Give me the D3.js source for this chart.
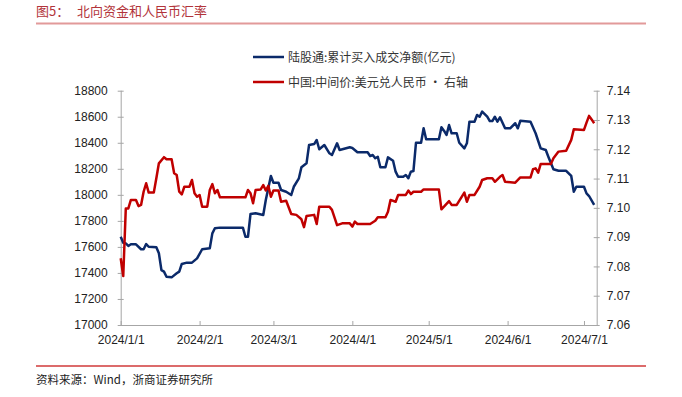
<!DOCTYPE html>
<html>
<head>
<meta charset="utf-8">
<script src="https://cdn.jsdelivr.net/npm/d3@7"></script>
<style>
    body { margin: 0; background: #fff; }
    .axis text { font-family: "Liberation Sans", Arial, sans-serif; font-size: 12px; fill: #222; }
    .legend { font-family: "Noto Sans CJK SC", sans-serif; font-size: 12px; fill: #333; }
</style>
</head>
<body>
<div id="visualisation"></div>
<script>
// 陆股通:累计买入成交净额(亿元), left axis
var northDates = ["2024-01-01", "2024-01-02", "2024-01-03", "2024-01-04", "2024-01-05", "2024-01-07", "2024-01-09", "2024-01-10",
    "2024-01-11", "2024-01-12", "2024-01-15", "2024-01-16", "2024-01-17", "2024-01-18", "2024-01-19", "2024-01-21",
    "2024-01-23", "2024-01-24", "2024-01-25", "2024-01-27", "2024-01-29", "2024-01-31", "2024-02-02", "2024-02-05",
    "2024-02-06", "2024-02-07", "2024-02-09", "2024-02-18", "2024-02-19", "2024-02-20", "2024-02-21", "2024-02-23",
    "2024-02-26", "2024-02-27", "2024-02-29", "2024-03-01", "2024-03-03", "2024-03-04", "2024-03-06", "2024-03-08",
    "2024-03-09", "2024-03-11", "2024-03-12", "2024-03-14", "2024-03-15", "2024-03-17", "2024-03-18", "2024-03-19",
    "2024-03-21", "2024-03-23", "2024-03-24", "2024-03-26", "2024-03-27", "2024-03-31", "2024-04-01", "2024-04-03",
    "2024-04-07", "2024-04-08", "2024-04-09", "2024-04-10", "2024-04-11", "2024-04-12", "2024-04-14", "2024-04-15",
    "2024-04-17", "2024-04-18", "2024-04-19", "2024-04-21", "2024-04-22", "2024-04-23", "2024-04-24", "2024-04-25",
    "2024-04-26", "2024-04-28", "2024-04-29", "2024-04-30", "2024-05-05", "2024-05-06", "2024-05-07", "2024-05-08",
    "2024-05-09", "2024-05-10", "2024-05-12", "2024-05-13", "2024-05-15", "2024-05-16", "2024-05-17", "2024-05-19",
    "2024-05-20", "2024-05-21", "2024-05-22", "2024-05-24", "2024-05-25", "2024-05-26", "2024-05-27", "2024-05-28",
    "2024-05-29", "2024-05-31", "2024-06-02", "2024-06-04", "2024-06-05", "2024-06-06", "2024-06-10", "2024-06-12",
    "2024-06-14", "2024-06-16", "2024-06-17", "2024-06-19", "2024-06-21", "2024-06-24", "2024-06-26", "2024-06-27",
    "2024-06-28", "2024-07-01", "2024-07-02", "2024-07-03", "2024-07-05"];
var northValues = [17678, 17632, 17627, 17607, 17620, 17620, 17582, 17582,
    17622, 17601, 17597, 17551, 17422, 17410, 17371, 17366,
    17397, 17410, 17469, 17479, 17479, 17512, 17582, 17589,
    17704, 17743, 17748, 17748, 17678, 17678, 17853, 17858,
    17845, 17960, 18145, 18093, 18093, 18037, 18024, 17999,
    18062, 18127, 18212, 18242, 18383, 18390, 18421, 18350,
    18383, 18319, 18306, 18396, 18344, 18365, 18360, 18327,
    18327, 18298, 18306, 18281, 18293, 18212, 18212, 18288,
    18262, 18178, 18139, 18139, 18152, 18127, 18178, 18183,
    18400, 18400, 18511, 18427, 18427, 18519, 18493, 18460,
    18536, 18473, 18473, 18400, 18357, 18396, 18562, 18562,
    18613, 18600, 18639, 18600, 18567, 18567, 18600, 18562,
    18596, 18511, 18511, 18550, 18511, 18569, 18562, 18473,
    18357, 18344, 18293, 18196, 18185, 18185, 18145, 18024,
    18062, 18062, 18011, 17991, 17922];

// 中国:中间价:美元兑人民币, right axis
var fxDates = ["2024-01-01", "2024-01-02", "2024-01-03", "2024-01-04", "2024-01-05", "2024-01-07", "2024-01-08", "2024-01-09",
    "2024-01-10", "2024-01-11", "2024-01-12", "2024-01-14", "2024-01-15", "2024-01-16", "2024-01-18", "2024-01-19",
    "2024-01-21", "2024-01-22", "2024-01-23", "2024-01-24", "2024-01-25", "2024-01-26", "2024-01-28", "2024-01-29",
    "2024-01-30", "2024-01-31", "2024-02-01", "2024-02-02", "2024-02-04", "2024-02-05", "2024-02-06", "2024-02-07",
    "2024-02-08", "2024-02-09", "2024-02-19", "2024-02-20", "2024-02-21", "2024-02-22", "2024-02-23", "2024-02-25",
    "2024-02-26", "2024-02-27", "2024-02-28", "2024-02-29", "2024-03-01", "2024-03-03", "2024-03-04", "2024-03-06",
    "2024-03-08", "2024-03-10", "2024-03-12", "2024-03-13", "2024-03-14", "2024-03-17", "2024-03-18", "2024-03-19",
    "2024-03-23", "2024-03-24", "2024-03-26", "2024-03-28", "2024-03-31", "2024-04-01", "2024-04-02", "2024-04-03",
    "2024-04-08", "2024-04-10", "2024-04-11", "2024-04-14", "2024-04-15", "2024-04-16", "2024-04-18", "2024-04-19",
    "2024-04-22", "2024-04-23", "2024-04-24", "2024-04-25", "2024-04-28", "2024-04-29", "2024-05-05", "2024-05-06",
    "2024-05-07", "2024-05-09", "2024-05-10", "2024-05-12", "2024-05-15", "2024-05-16", "2024-05-17", "2024-05-19",
    "2024-05-21", "2024-05-22", "2024-05-24", "2024-05-26", "2024-05-27", "2024-05-29", "2024-05-30", "2024-05-31",
    "2024-06-04", "2024-06-06", "2024-06-10", "2024-06-11", "2024-06-12", "2024-06-13", "2024-06-14", "2024-06-18",
    "2024-06-19", "2024-06-21", "2024-06-24", "2024-06-26", "2024-06-27", "2024-07-01", "2024-07-02", "2024-07-03",
    "2024-07-04", "2024-07-05"];
var fxValues = [7.0828, 7.0767, 7.0998, 7.0998, 7.1027, 7.1027, 7.1006, 7.1010,
    7.1055, 7.1084, 7.1052, 7.1052, 7.1101, 7.1152, 7.1173, 7.1166,
    7.1166, 7.1118, 7.1112, 7.1055, 7.1046, 7.1072, 7.1072, 7.1095,
    7.1050, 7.1038, 7.1044, 7.1004, 7.1004, 7.1061, 7.1081, 7.1050,
    7.1061, 7.1036, 7.1036, 7.1061, 7.1050, 7.1016, 7.1061, 7.1063,
    7.1078, 7.1059, 7.1075, 7.1038, 7.1059, 7.1059, 7.1021, 7.1024,
    7.0979, 7.0976, 7.0961, 7.0934, 7.0972, 7.0976, 7.0945, 7.1004,
    7.1004, 7.0993, 7.0941, 7.0947, 7.0947, 7.0936, 7.0953, 7.0945,
    7.0945, 7.0956, 7.0968, 7.0968, 7.0987, 7.1027, 7.1021, 7.1044,
    7.1044, 7.1059, 7.1047, 7.1055, 7.1055, 7.1063, 7.1063, 7.0995,
    7.1004, 7.1023, 7.1010, 7.1010, 7.1052, 7.1021, 7.1044, 7.1044,
    7.1072, 7.1095, 7.1101, 7.1101, 7.1089, 7.1106, 7.1112, 7.1089,
    7.1086, 7.1104, 7.1104, 7.1132, 7.1135, 7.1120, 7.1150, 7.1150,
    7.1169, 7.1192, 7.1195, 7.1232, 7.1268, 7.1266, 7.1291, 7.1314,
    7.1302, 7.1289];

var leftTicks = [17000, 17200, 17400, 17600, 17800, 18000, 18200, 18400, 18600, 18800];
var rightTicks = [7.06, 7.07, 7.08, 7.09, 7.10, 7.11, 7.12, 7.13, 7.14];
var monthTicks = ["2024-01-01", "2024-02-01", "2024-03-01", "2024-04-01", "2024-05-01", "2024-06-01", "2024-07-01"];

var width = 682;
var height = 397;
var plotLeft = 120.7, plotRight = 596.7, plotTop = 90.7, plotBottom = 325;

var parse = d3.timeParse("%Y-%m-%d");
var fmt = d3.timeFormat("%Y/%-m/%-d");

var north = northDates.map(function (d, i) { return { date: parse(d), v: northValues[i] }; });
var fx = fxDates.map(function (d, i) { return { date: parse(d), v: fxValues[i] }; });

var xScale = d3.scaleTime()
    .domain([parse("2024-01-01"), parse("2024-07-06")])
    .range([plotLeft, plotRight]);

var yLeft = d3.scaleLinear()
    .domain([17000, 18800])
    .range([plotBottom, plotTop]);

var yRight = d3.scaleLinear()
    .domain([7.06, 7.14])
    .range([plotBottom, plotTop]);

var svg = d3.select("#visualisation")
    .append("svg")
        .attr("width", width)
        .attr("height", height);

// title
svg.append("text")
    .attr("x", 36)
    .attr("y", 16)
    .style("font-family", "\"Noto Sans CJK SC\", sans-serif")
    .style("font-size", "13px")
    .style("fill", "#b2343a")
    .text("图5：");

svg.append("text")
    .attr("x", 77)
    .attr("y", 16)
    .style("font-family", "\"Noto Sans CJK SC\", sans-serif")
    .style("font-size", "13px")
    .style("fill", "#b2343a")
    .text("北向资金和人民币汇率");

svg.append("line")
    .attr("x1", 36).attr("x2", 646)
    .attr("y1", 23.5).attr("y2", 23.5)
    .attr("stroke", "#e29a9a")
    .attr("stroke-width", 2);

svg.append("line")
    .attr("x1", 36).attr("x2", 646)
    .attr("y1", 366).attr("y2", 366)
    .attr("stroke", "#d03a3a")
    .attr("stroke-width", 1.5);

svg.append("text")
    .attr("x", 36)
    .attr("y", 384)
    .style("font-family", "\"Noto Sans CJK SC\", sans-serif")
    .style("font-size", "11.5px")
    .style("fill", "#222")
    .text("资料来源：Wind，浙商证券研究所");

// axes
var xAxis = d3.axisBottom(xScale)
    .tickValues(monthTicks.map(parse))
    .tickSize(-4)
    .tickFormat(fmt);

var gx = svg.append("g")
    .attr("class", "x axis")
    .attr("transform", "translate(0," + plotBottom + ")")
    .call(xAxis);
gx.selectAll("text").attr("y", 10).attr("dy", "0.71em");

var gl = svg.append("g")
    .attr("class", "y axis")
    .attr("transform", "translate(" + plotLeft + ",0)")
    .call(d3.axisLeft(yLeft).tickValues(leftTicks).tickSize(3).tickPadding(10).tickFormat(d3.format("d")));
gl.selectAll(".tick line").attr("x2", 3).attr("x1", -3);

var gr = svg.append("g")
    .attr("class", "y axis")
    .attr("transform", "translate(" + plotRight + ",0)")
    .call(d3.axisRight(yRight).tickValues(rightTicks).tickSize(3).tickPadding(7).tickFormat(d3.format(".2f")));
gr.selectAll(".tick line").attr("x2", 3).attr("x1", -3);

gx.select(".domain").attr("d", "M" + plotLeft + ",0.5H" + plotRight);
gl.select(".domain").attr("d", "M0.5," + plotTop + "V" + plotBottom);
gr.select(".domain").attr("d", "M0.5," + plotTop + "V" + plotBottom);
svg.selectAll(".axis .domain, .axis .tick line").attr("stroke", "#a6a6a6");

// lines
var northLine = d3.line()
    .x(function (d) { return xScale(d.date); })
    .y(function (d) { return yLeft(d.v); });

var fxLine = d3.line()
    .x(function (d) { return xScale(d.date); })
    .y(function (d) { return yRight(d.v); });

svg.append("path")
    .datum(north)
    .attr("d", northLine)
    .attr("fill", "none")
    .attr("stroke", "#0b2a6a")
    .attr("stroke-width", 2.5)
    .attr("stroke-linejoin", "round");

svg.append("path")
    .datum(fx)
    .attr("d", fxLine)
    .attr("fill", "none")
    .attr("stroke", "#c00000")
    .attr("stroke-width", 2.5)
    .attr("stroke-linejoin", "round");

// legend
svg.append("line")
    .attr("x1", 253).attr("x2", 284)
    .attr("y1", 57).attr("y2", 57)
    .attr("stroke", "#0b2a6a")
    .attr("stroke-width", 2.5);

svg.append("text")
    .attr("class", "legend")
    .attr("x", 288)
    .attr("y", 62)
    .text("陆股通:累计买入成交净额(亿元)");

svg.append("line")
    .attr("x1", 253).attr("x2", 284)
    .attr("y1", 82).attr("y2", 82)
    .attr("stroke", "#c00000")
    .attr("stroke-width", 2.5);

svg.append("text")
    .attr("class", "legend")
    .attr("x", 288)
    .attr("y", 87)
    .text("中国:中间价:美元兑人民币 · 右轴");
</script>
</body>
</html>
